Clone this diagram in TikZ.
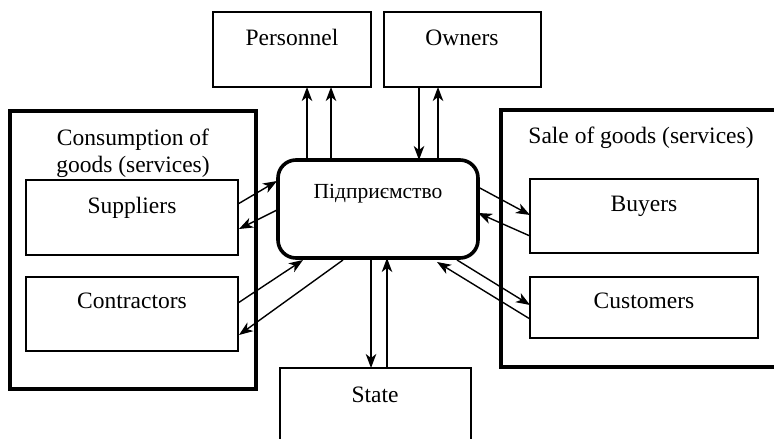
\documentclass[tikz,border=0pt]{standalone}
\usepackage{fontspec}
\setmainfont{Liberation Serif}
\usetikzlibrary{arrows.meta}
\begin{document}
\begin{tikzpicture}[x=1pt,y=-1pt,
  box/.style={draw,line width=1.3pt,inner sep=0pt,outer sep=0pt,anchor=north west},
  bigbox/.style={draw,line width=3.6pt,inner sep=0pt,outer sep=0pt,anchor=north west},
  entbox/.style={draw,line width=3.6pt,rounded corners=18pt,inner sep=0pt,outer sep=0pt,anchor=north west},
  lbl/.style={anchor=base,inner sep=0pt,font=\fontsize{23.5}{28}\selectfont},
  flow/.style={line width=1.4pt,-{Stealth[length=14pt,width=10.5pt,inset=4pt]}}]
\useasboundingbox (0,0) rectangle (774,439);
\clip (0,0) rectangle (774,439);
% boxes
\node[box,minimum width=158pt,minimum height=75pt] (pers) at (213,12) {};
\node[box,minimum width=157pt,minimum height=75pt] (own) at (384,12) {};
\node[bigbox,minimum width=246pt,minimum height=278pt] (cons) at (10,111) {};
\node[box,minimum width=212pt,minimum height=75pt] (sup) at (26,180) {};
\node[box,minimum width=212pt,minimum height=74pt] (con) at (26,277) {};
\node[bigbox,minimum width=290pt,minimum height=257pt] (sale) at (501,110) {};
\node[box,minimum width=228pt,minimum height=74pt] (buy) at (530,179) {};
\node[box,minimum width=228pt,minimum height=61pt] (cust) at (530,277) {};
\node[box,minimum width=191pt,minimum height=100pt] (state) at (280,368) {};
\node[entbox,minimum width=200pt,minimum height=98pt] (ent) at (278,160) {};
% texts
\node[lbl] (tpers) at (292,45) {Personnel};
\node[lbl] (town) at (462,45) {Owners};
\node[lbl] (tcons1) at (133,145) {Consumption of};
\node[lbl] (tcons2) at (133,172) {goods (services)};
\node[lbl] (tsup) at (132,213) {Suppliers};
\node[lbl] (tcon) at (132,308) {Contractors};
\node[lbl] (tsale) at (641,143) {Sale of goods (services)};
\node[lbl] (tbuy) at (644,211) {Buyers};
\node[lbl] (tcust) at (644,308) {Customers};
\node[lbl] (tstate) at (375,402) {State};
\node[lbl,font=\fontsize{21.5}{25}\selectfont] (tent) at (378,198) {Підприємство};
% connector end points
\coordinate (p1a) at (307,160); \coordinate (p1b) at (307,87);
\coordinate (p2a) at (331,160); \coordinate (p2b) at (331,87);
\coordinate (o1a) at (419,87);  \coordinate (o1b) at (419,160);
\coordinate (o2a) at (438,160); \coordinate (o2b) at (438,87);
\coordinate (s1a) at (371,258); \coordinate (s1b) at (371,368);
\coordinate (s2a) at (387,368); \coordinate (s2b) at (387,258);
\coordinate (u1a) at (238,204); \coordinate (u1b) at (277,181);
\coordinate (u2a) at (277,210); \coordinate (u2b) at (239,229);
\coordinate (c1a) at (238,303); \coordinate (c1b) at (303,260);
\coordinate (c2a) at (343,260); \coordinate (c2b) at (239,335);
\coordinate (b1a) at (478,187); \coordinate (b1b) at (530,215);
\coordinate (b2a) at (530,236); \coordinate (b2b) at (478,213);
\coordinate (k1a) at (457,260); \coordinate (k1b) at (530,305);
\coordinate (k2a) at (530,319); \coordinate (k2b) at (437,262);
% connectors
\draw[flow] (p1a) -- (p1b);
\draw[flow] (p2a) -- (p2b);
\draw[flow] (o1a) -- (o1b);
\draw[flow] (o2a) -- (o2b);
\draw[flow] (s1a) -- (s1b);
\draw[flow] (s2a) -- (s2b);
\draw[flow] (u1a) -- (u1b);
\draw[flow] (u2a) -- (u2b);
\draw[flow] (c1a) -- (c1b);
\draw[flow] (c2a) -- (c2b);
\draw[flow] (b1a) -- (b1b);
\draw[flow] (b2a) -- (b2b);
\draw[flow] (k1a) -- (k1b);
\draw[flow] (k2a) -- (k2b);
\end{tikzpicture}
\end{document}
